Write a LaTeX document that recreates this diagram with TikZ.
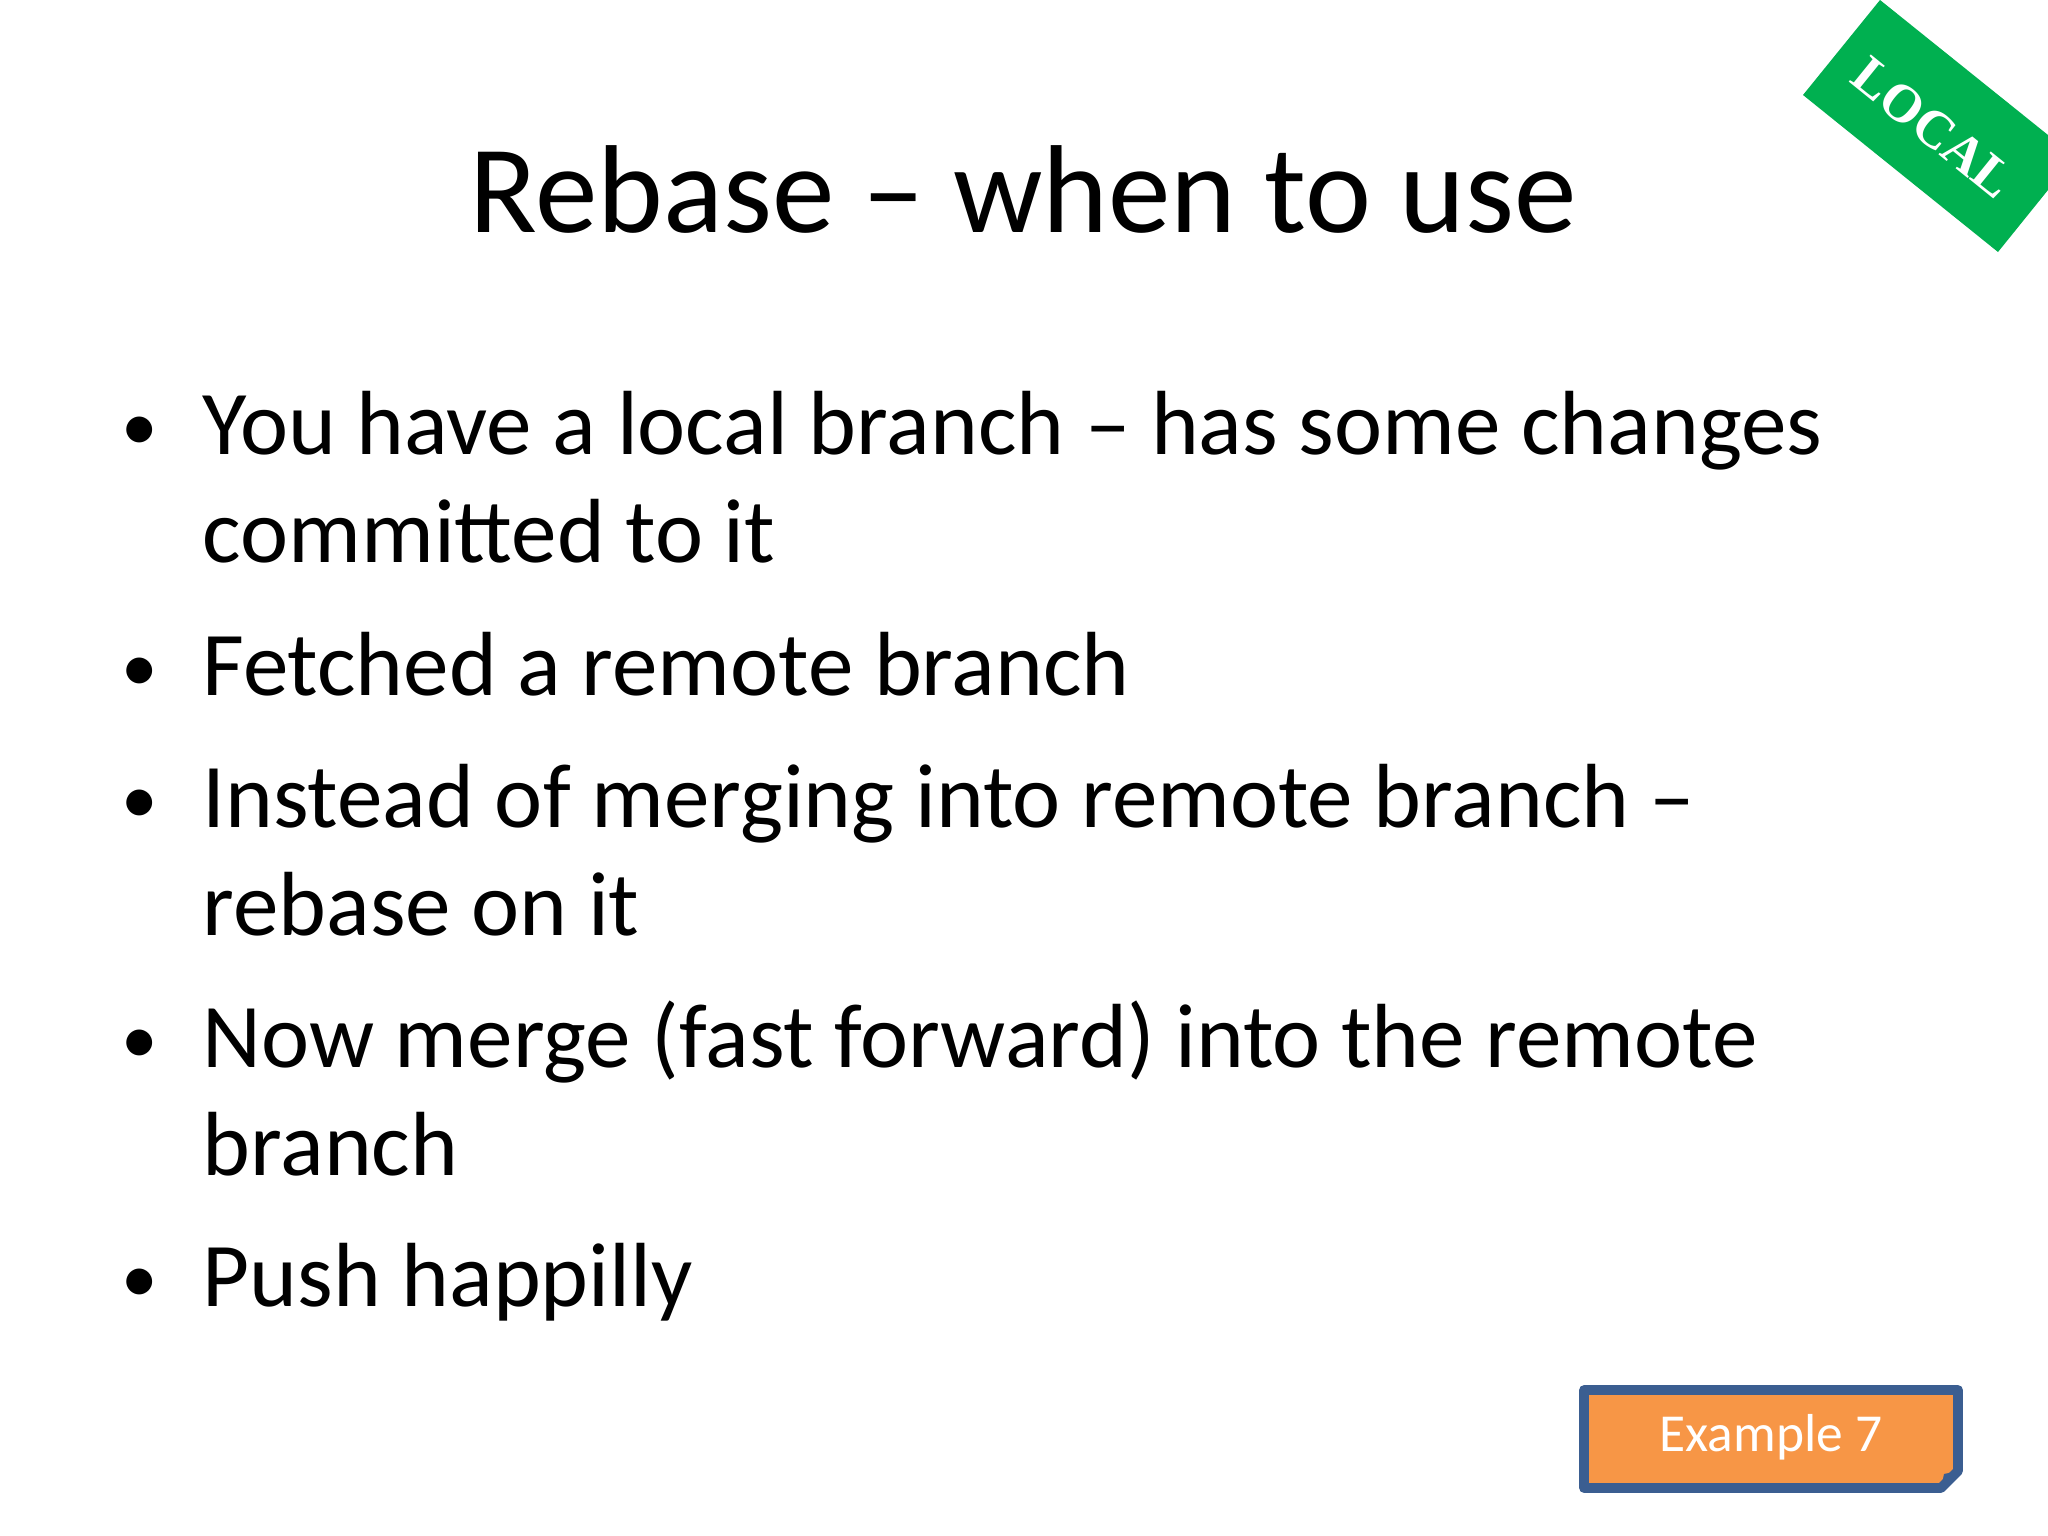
\documentclass[tikz,border=0pt]{standalone}
\usepackage{fontspec}
\setmainfont{Carlito}
\newfontfamily\serifb{Liberation Serif}
\definecolor{lgreen}{HTML}{00B050}
\definecolor{eorange}{HTML}{F79646}
\definecolor{eblue}{HTML}{3B5E91}
\begin{document}
\begin{tikzpicture}[x=0.0125cm,y=-0.0125cm,
  bul/.style={anchor=base west,inner sep=0,font=\fontsize{32.4}{40}\selectfont},
  dot/.style={anchor=base,inner sep=0,font=\fontsize{26}{30}\selectfont}]
\useasboundingbox[fill=white] (0,0) rectangle (2048,1536);
\node[anchor=base,inner sep=0,font=\fontsize{44.5}{54}\selectfont] (title) at (1023,232) {Rebase – when to use};
\foreach \y/\t [count=\i] in {454/{You have a local branch – has some changes},562/{committed to it},695/{Fetched a remote branch},827/{Instead of merging into remote branch –},935/{rebase on it},1067/{Now merge (fast forward) into the remote},1175/{branch},1306/{Push happilly}}
  \node[bul] (l\i) at (202,\y) {\t};
\foreach \y [count=\i] in {454,695,827,1067,1306}
  \node[dot] (b\i) at (140,\y-4) {•};
\fill[lgreen] (1880,0) -- (2048,135) -- (2048,190) -- (1998,252) -- (1803,95) -- cycle;
\node[rotate=-39,text=white,font=\serifb\bfseries\fontsize{19}{23}\selectfont,inner sep=0] (local) at (1933,128) {LOCAL};
\draw[eblue,line width=3.5,fill=eorange,line join=round] (1584,1390) -- (1958,1390) -- (1958,1471) -- (1941,1488) -- (1584,1488) -- cycle;
\fill[eblue] (1958,1471) -- (1941,1488) -- (1944,1474) -- cycle;
\node[text=white,font=\fontsize{19}{23}\selectfont,inner sep=0] (ex) at (1771,1437) {Example 7};
\end{tikzpicture}
\end{document}
